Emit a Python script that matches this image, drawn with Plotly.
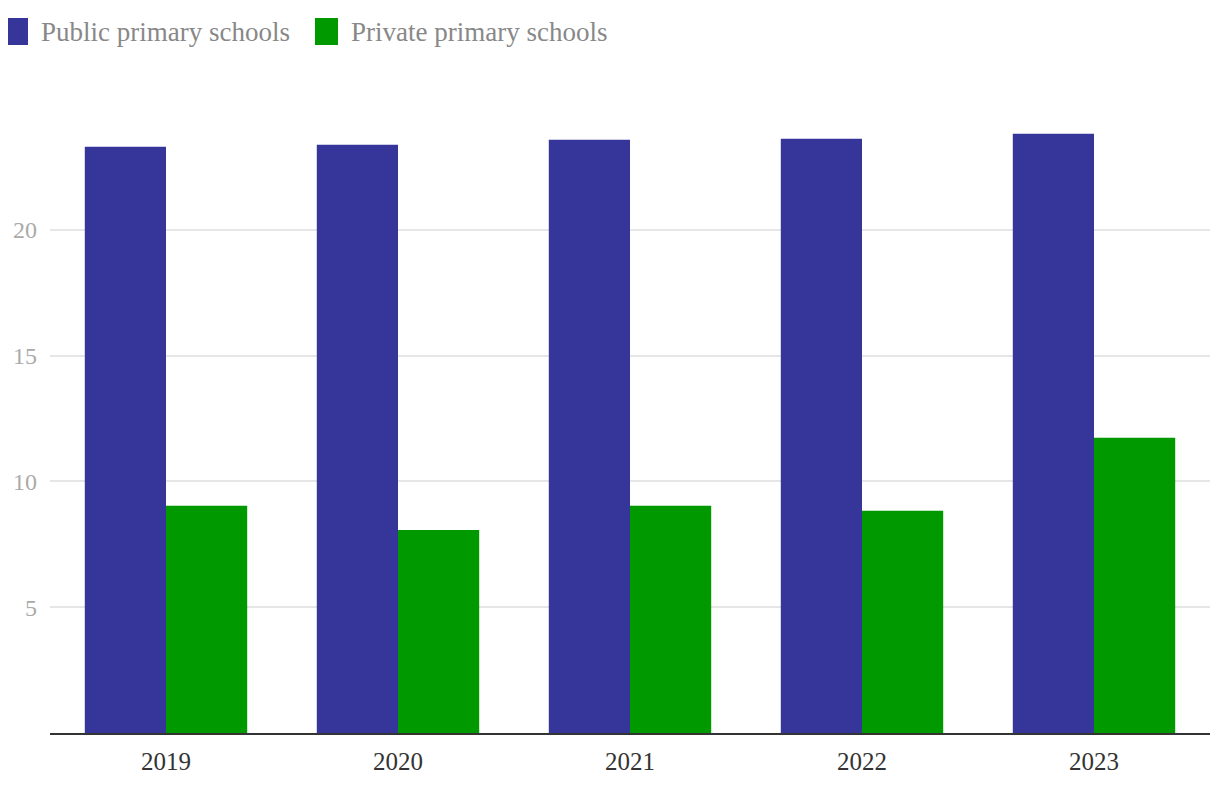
import plotly.graph_objects as go

years = ['2019', '2020', '2021', '2022', '2023']
public = [23.3, 23.38, 23.58, 23.62, 23.82]
private = [9.03, 8.07, 9.03, 8.83, 11.73]

names = ['Public primary schools', 'Private primary schools']
colors = ['#36369a', '#009900']

fig = go.Figure()
fig.add_trace(go.Bar(x=years, y=public, name=names[0], showlegend=False,
                     marker=dict(color=colors[0], line=dict(width=0))))
fig.add_trace(go.Bar(x=years, y=private, name=names[1], showlegend=False,
                     marker=dict(color=colors[1], line=dict(width=0))))

W, H = 1220, 792
ml, mr, mt, mb = 42, 18, 96, 67
pw, ph = W - ml - mr, H - mt - mb

def px_to_paper(x, y):
    return (x - ml) / pw, 1 - (y - mt) / ph

# legend drawn by hand so the swatches can be large squares
legend_x = [-3, 307]
for lx, name, col in zip(legend_x, names, colors):
    x0, y0 = px_to_paper(lx, 10)
    x1, y1 = px_to_paper(lx + 23, 37)
    fig.add_shape(type='rect', xref='paper', yref='paper',
                  x0=x0, x1=x1, y0=y1, y1=y0, fillcolor=col, line=dict(width=0))
    tx, ty = px_to_paper(lx + 34, 24)
    fig.add_annotation(text=name, x=tx, y=ty, xref='paper', yref='paper',
                       xanchor='left', yanchor='middle', showarrow=False,
                       font=dict(size=27, color='#888888'))

fig.update_layout(
    width=W, height=H,
    barmode='group', bargap=0.3, bargroupgap=0,
    margin=dict(l=ml, r=mr, t=mt, b=mb),
    plot_bgcolor='white', paper_bgcolor='white',
    font=dict(family='Liberation Serif, DejaVu Serif, serif'),
    xaxis=dict(showgrid=False, showline=True, linecolor='#333333', linewidth=2,
               ticks='', ticklabelstandoff=5, automargin=False,
               tickfont=dict(size=25, color='#333333')),
    yaxis=dict(range=[0, 25], tickvals=[5, 10, 15, 20], showgrid=True,
               gridcolor='#e6e6e6', gridwidth=2, zeroline=False, ticks='',
               ticklabelstandoff=12, automargin=False,
               tickfont=dict(size=24, color='#aaaaaa')),
)

fig.write_html('out.html')
